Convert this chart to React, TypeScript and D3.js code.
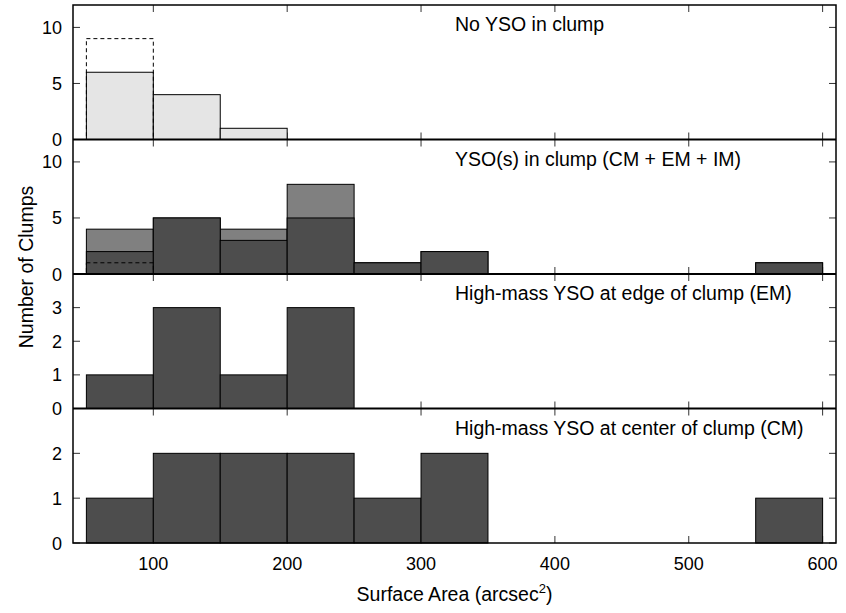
import React from 'react';
import * as d3 from 'd3';

// histogram bins (arcsec^2), each 50 wide
const binStarts = [50, 100, 150, 200, 250, 300, 350, 400, 450, 500, 550];
const binWidth = 50;

// panel 1: no YSO
const noYsoCounts = [6, 4, 1, 0, 0, 0, 0, 0, 0, 0, 0];
const noYsoDashed = [9, 0, 0, 0, 0, 0, 0, 0, 0, 0, 0];

// panel 2: YSO(s) in clump
const ysoAllCounts = [4, 5, 4, 8, 1, 2, 0, 0, 0, 0, 1];
const ysoHighMassCounts = [2, 5, 3, 5, 1, 2, 0, 0, 0, 0, 1];
const ysoDashed = [1, 0, 0, 0, 0, 0, 0, 0, 0, 0, 0];

// panel 3 / 4
const emCounts = [1, 3, 1, 3, 0, 0, 0, 0, 0, 0, 0];
const cmCounts = [1, 2, 2, 2, 1, 2, 0, 0, 0, 0, 1];

const xTicks = [100, 200, 300, 400, 500, 600];
const panelLabels = [
    'No YSO in clump',
    'YSO(s) in clump (CM + EM + IM)',
    'High-mass YSO at edge of clump (EM)',
    'High-mass YSO at center of clump (CM)'
];
const panelYMax = [12, 12, 4, 3];
const panelYTicks = [[0, 5, 10], [0, 5, 10], [0, 1, 2, 3], [0, 1, 2]];

const FONT = '"Liberation Sans", Arial, Helvetica, sans-serif';
const LIGHT = '#e5e5e5';
const MID = '#808080';
const DARK = '#4d4d4d';

const left = 73, right = 836, top = 5, bottom = 543;
const panelH = (bottom - top) / 4;
const tickLen = 7;

function Bars({counts, x, y, fill, dashed}: any) {
    return (
        <g>
            {counts.map((c: number, i: number) => {
                if (!c) return null;
                const x0 = x(binStarts[i]);
                const x1 = x(binStarts[i] + binWidth);
                return (
                    <rect key={i} x={x0} y={y(c)} width={x1 - x0} height={y(0) - y(c)}
                          fill={dashed ? 'none' : fill} stroke="#000"
                          strokeWidth={1} strokeDasharray={dashed ? '4,3' : undefined}/>
                );
            })}
        </g>
    );
}

function Panel({index, x}: any) {
    const y0 = top + index * panelH;
    const y = d3.scaleLinear().domain([0, panelYMax[index]]).range([y0 + panelH, y0]);
    let layers: any[] = [];
    if (index === 0) {
        layers = [
            <Bars key="a" counts={noYsoCounts} x={x} y={y} fill={LIGHT}/>,
            <Bars key="b" counts={noYsoDashed} x={x} y={y} dashed/>
        ];
    } else if (index === 1) {
        layers = [
            <Bars key="a" counts={ysoAllCounts} x={x} y={y} fill={MID}/>,
            <Bars key="b" counts={ysoHighMassCounts} x={x} y={y} fill={DARK}/>,
            <Bars key="c" counts={ysoDashed} x={x} y={y} dashed/>
        ];
    } else if (index === 2) {
        layers = [<Bars key="a" counts={emCounts} x={x} y={y} fill={DARK}/>];
    } else {
        layers = [<Bars key="a" counts={cmCounts} x={x} y={y} fill={DARK}/>];
    }
    return (
        <g>
            {/* ticks under the bars */}
            {xTicks.map(t => (
                <g key={'x' + t} stroke="#333" strokeWidth={1}>
                    <line x1={x(t)} x2={x(t)} y1={y0} y2={y0 + tickLen}/>
                    <line x1={x(t)} x2={x(t)} y1={y0 + panelH} y2={y0 + panelH - tickLen}/>
                </g>
            ))}
            {panelYTicks[index].map(t => (
                <g key={'y' + t}>
                    <line x1={left} x2={left + tickLen} y1={y(t)} y2={y(t)} stroke="#333"/>
                    <line x1={right} x2={right - tickLen} y1={y(t)} y2={y(t)} stroke="#333"/>
                    <text x={62} y={y(t) + 6.5} textAnchor="end" fontSize={18}>{t}</text>
                </g>
            ))}
            {layers}
            <text x={455} y={y0 + 26} fontSize={19.5}>{panelLabels[index]}</text>
        </g>
    );
}

export default function App() {
    const width = 846, height = 613;
    const x = d3.scaleLinear().domain([40, 610]).range([left, right]);
    return (
        <svg width={width} height={height} style={{position: 'absolute', left: 0, top: 0}}
             fontFamily={FONT} fill="#000">
            <rect x={0} y={0} width={width} height={height} fill="#fff"/>
            {[0, 1, 2, 3].map(i => <Panel key={i} index={i} x={x}/>)}
            {/* panel separators */}
            {[1, 2, 3].map(i => (
                <line key={i} x1={left} x2={right} y1={top + i * panelH} y2={top + i * panelH}
                      stroke="#000" strokeWidth={2}/>
            ))}
            <rect x={left} y={top} width={right - left} height={bottom - top}
                  fill="none" stroke="#000" strokeWidth={1.5}/>
            {xTicks.map(t => (
                <text key={t} x={x(t)} y={570} textAnchor="middle" fontSize={18}>{t}</text>
            ))}
            <text x={(left + right) / 2} y={601} textAnchor="middle" fontSize={19.5}>
                Surface Area (arcsec<tspan dy={-8} fontSize={13}>2</tspan><tspan dy={8}>)</tspan>
            </text>
            <text transform={'translate(33,' + 267 + ') rotate(-90)'} textAnchor="middle" fontSize={19.5}>
                Number of Clumps
            </text>
        </svg>
    );
}
